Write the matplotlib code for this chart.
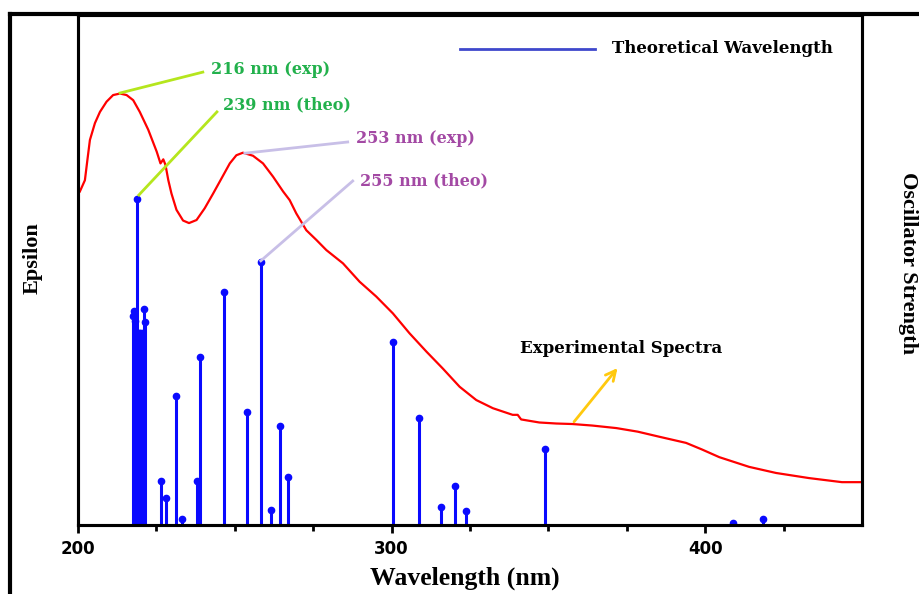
import matplotlib.pyplot as plt
from matplotlib.lines import Line2D

# experimental spectrum (wavelength in nm, epsilon in arbitrary units)
exp_nm = [200.6, 202.2, 203.0, 203.8, 205.4, 207.0, 209.1, 211.2, 213.4, 215.5,
          217.6, 219.7, 222.4, 225.1, 226.3, 227.2, 227.9, 228.8, 229.8, 231.4,
          233.5, 235.4, 237.8, 240.4, 243.1, 245.8, 248.4, 250.5, 252.6, 255.8,
          259.0, 262.2, 265.4, 267.5, 269.6, 272.8, 276.0, 279.2, 284.5, 289.8,
          295.1, 300.4, 305.7, 311.1, 316.3, 321.7, 327.0, 332.3, 338.6, 340.2,
          341.3, 347.1, 352.5, 357.6, 364.0, 371.7, 378.5, 385.4, 393.9, 399.0,
          404.5, 414.0, 422.6, 433.1, 443.6, 450.0]
exp_eps = [0.654, 0.676, 0.716, 0.755, 0.788, 0.810, 0.830, 0.843, 0.846, 0.843,
           0.833, 0.810, 0.775, 0.732, 0.709, 0.717, 0.706, 0.676, 0.650, 0.618,
           0.597, 0.592, 0.598, 0.621, 0.650, 0.680, 0.709, 0.725, 0.730, 0.724,
           0.709, 0.683, 0.654, 0.637, 0.611, 0.578, 0.559, 0.539, 0.513, 0.477,
           0.448, 0.415, 0.376, 0.340, 0.307, 0.271, 0.245, 0.229, 0.216, 0.216,
           0.207, 0.201, 0.199, 0.198, 0.195, 0.190, 0.183, 0.173, 0.161, 0.148,
           0.133, 0.114, 0.102, 0.092, 0.084, 0.084]

# theoretical transitions
theo_nm = [217.6, 217.8, 218.3, 218.9, 219.4, 219.9, 220.4, 221.0, 221.5,
           226.5, 228.0, 231.4, 233.2, 238.1, 238.9, 246.5, 253.9, 258.4, 261.4,
           264.4, 267.1, 300.6, 308.6, 315.8, 320.1, 323.8, 349.0, 408.9, 418.5]
theo_f = [0.205, 0.210, 0.200, 0.320, 0.188, 0.188, 0.188, 0.212, 0.199,
          0.043, 0.026, 0.126, 0.006, 0.043, 0.165, 0.228, 0.111, 0.258, 0.015,
          0.097, 0.047, 0.179, 0.105, 0.018, 0.038, 0.014, 0.075, 0.002, 0.006]

x_ticks = [200, 300, 400]

fig = plt.figure(figsize=(9.19, 5.94), dpi=100)
ax = fig.add_axes([78/919, 69/594, 784/919, 510/594])
ax2 = ax.twinx()

ax2.vlines(theo_nm, 0, theo_f, color='#0a0aff', linewidth=2.2)
ax2.plot(theo_nm, theo_f, 'o', color='#0a0aff', markersize=4.5)
ax2.set_ylim(0, 0.5)

ax.set_zorder(ax2.get_zorder() + 1)
ax.patch.set_visible(False)
ax.plot(exp_nm, exp_eps, color='#ff0000', linewidth=1.6)
ax.set_xlim(200, 450)
ax.set_ylim(0, 1)

ax.set_xticks(x_ticks)
ax.set_xticks(range(225, 450, 25), minor=True)
ax.tick_params(axis='x', which='major', length=6, width=2, pad=5)
ax.tick_params(axis='x', which='minor', length=4, width=2)
for lbl in ax.get_xticklabels():
    lbl.set_fontfamily('DejaVu Sans')
    lbl.set_fontweight('bold')
    lbl.set_fontsize(12)
ax.set_yticks([])
ax2.set_yticks([])
for a in (ax, ax2):
    for s in a.spines.values():
        s.set_linewidth(2.2)

# outer frame
fig.add_artist(Line2D([10/919, 10/919], [0, 1 - 14/594], color='black', linewidth=3))
fig.add_artist(Line2D([10/919, 1], [1 - 14/594, 1 - 14/594], color='black', linewidth=3))

fig.text(465/919, 1 - 578/594, 'Wavelength (nm)', ha='center', va='center',
         family='Liberation Serif', weight='bold', fontsize=18.5)
fig.text(33/919, 1 - 258/594, 'Epsilon', ha='center', va='center', rotation=90,
         family='Liberation Serif', weight='bold', fontsize=16)
fig.text(908/919, 1 - 263/594, 'Oscillator Strength', ha='center', va='center',
         rotation=-90, family='Liberation Serif', weight='bold', fontsize=16)

green = '#22b14c'
purple = '#a349a4'
lime = '#b5e61d'
lavender = '#c8bfe7'
tfont = dict(family='DejaVu Serif', weight='bold', fontsize=11.5, va='center')

ax.plot([213.4, 239.8], [0.847, 0.888], color=lime, linewidth=2)
ax.text(242.4, 0.894, '216 nm (exp)', color=green, **tfont)
ax.plot([219.4, 244.3], [0.647, 0.810], color=lime, linewidth=2)
ax.text(246.2, 0.8235, '239 nm (theo)', color=green, **tfont)
ax.plot([253.2, 286.0], [0.729, 0.751], color=lavender, linewidth=2)
ax.text(288.5, 0.757, '253 nm (exp)', color=purple, **tfont)
ax.plot([258.3, 287.6], [0.518, 0.6745], color=lavender, linewidth=2)
ax.text(289.8, 0.6745, '255 nm (theo)', color=purple, **tfont)

ax.plot([321.7, 365.0], [0.933, 0.933], color='#3f48cc', linewidth=2)
ax.text(370.4, 0.935, 'Theoretical Wavelength', color='black',
        family='DejaVu Serif', weight='bold', fontsize=12, va='center')

ax.text(340.8, 0.347, 'Experimental Spectra', color='black',
        family='DejaVu Serif', weight='bold', fontsize=12, va='center')
ax.annotate('', xy=(372.6, 0.312), xytext=(357.6, 0.198),
            arrowprops=dict(arrowstyle='->', color='#ffc90e', linewidth=2,
                            mutation_scale=18))

fig.savefig('out.png', dpi=100)
